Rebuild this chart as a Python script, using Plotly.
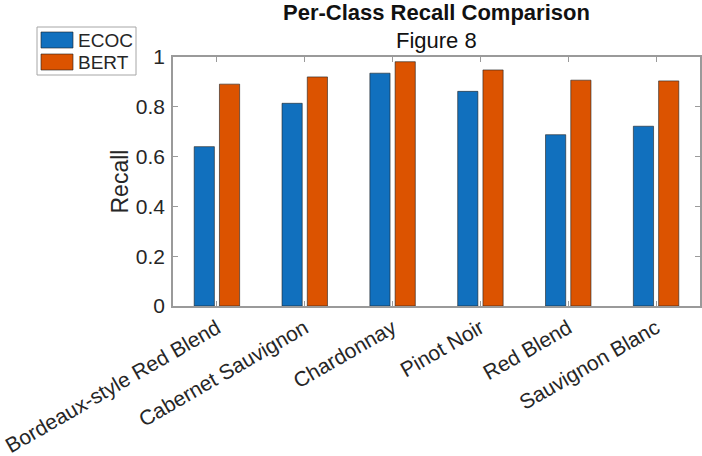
import plotly.graph_objects as go

# data
classes = ["Bordeaux-style Red Blend", "Cabernet Sauvignon", "Chardonnay",
           "Pinot Noir", "Red Blend", "Sauvignon Blanc"]
ecoc_recall = [0.640, 0.814, 0.935, 0.862, 0.688, 0.722]
bert_recall = [0.891, 0.920, 0.981, 0.948, 0.907, 0.904]
series_names = ["ECOC", "BERT"]
series_colors = ["#1170BE", "#DC5300"]
y_ticks = [0, 0.2, 0.4, 0.6, 0.8, 1]
y_ticktext = ["0", "0.2", "0.4", "0.6", "0.8", "1"]

FONT = "Liberation Sans, Arial, sans-serif"
TXT = "#262626"
AX = "#9a9a9a"

W, H = 702, 456
# plot box in page pixels: x 173..700, y 57..306
L, R, T, B = 173, W - 700, 57, H - 306
pw, ph = W - L - R, H - T - B


def px_x(px):
    return (px - L) / pw


def px_y(py):
    return (H - B - py) / ph


fig = go.Figure()
for name, vals, color in zip(series_names, [ecoc_recall, bert_recall], series_colors):
    fig.add_trace(go.Bar(
        x=classes, y=vals, name=name,
        marker=dict(color=color, line=dict(color="#202020", width=0.6)),
        showlegend=False,
    ))

fig.update_layout(
    width=W, height=H,
    margin=dict(l=L, r=R, t=T, b=B, autoexpand=False),
    paper_bgcolor="white", plot_bgcolor="white",
    barmode="group", bargap=0.425, bargroupgap=0.2,
    font=dict(family=FONT, size=21, color=TXT),
    xaxis=dict(
        type="category", range=[-0.5, 5.5],
        showline=True, linecolor=AX, linewidth=1.5, mirror="allticks",
        ticks="inside", ticklen=5, tickcolor=AX, tickangle=-30,
        tickfont=dict(size=21, color=TXT), showgrid=False, automargin=False,
    ),
    yaxis=dict(
        range=[0, 1], tickvals=y_ticks, ticktext=y_ticktext,
        showline=True, linecolor=AX, linewidth=1.5, mirror="allticks",
        ticks="inside", ticklen=5, tickcolor=AX, ticklabelstandoff=2,
        tickfont=dict(size=21, color=TXT), showgrid=False, zeroline=False,
        automargin=False,
    ),
)

# titles
fig.add_annotation(text="<b>Per-Class Recall Comparison</b>", xref="paper", yref="paper",
                   x=0.5, y=px_y(12.5), xanchor="center", yanchor="middle",
                   showarrow=False, font=dict(size=22, color="#111111"))
fig.add_annotation(text="Figure 8", xref="paper", yref="paper",
                   x=0.5, y=px_y(40), xanchor="center", yanchor="middle",
                   showarrow=False, font=dict(size=22, color="#111111"))
fig.add_annotation(text="Recall", xref="paper", yref="paper",
                   x=px_x(119), y=0.5, xanchor="center", yanchor="middle", textangle=-90,
                   showarrow=False, font=dict(size=23, color=TXT))

# MATLAB-style legend box drawn by hand
fig.add_shape(type="rect", xref="paper", yref="paper",
              x0=px_x(37), x1=px_x(136), y0=px_y(75), y1=px_y(27),
              line=dict(color="#a6a6a6", width=1), fillcolor="white")
for i, (name, color) in enumerate(zip(series_names, series_colors)):
    top = 32 + i * 22
    fig.add_shape(type="rect", xref="paper", yref="paper",
                  x0=px_x(41), x1=px_x(73), y0=px_y(top + 16), y1=px_y(top),
                  line=dict(color="#202020", width=0.6), fillcolor=color)
    fig.add_annotation(text=name, xref="paper", yref="paper",
                       x=px_x(76), y=px_y(top + 8), xanchor="left", yanchor="middle",
                       showarrow=False, font=dict(size=19, color=TXT))

# drop the default 8px body margin so the figure sits at the page corner
fig.write_html("out.html", config={"displayModeBar": False},
               post_script="document.body.style.margin='0px';")
